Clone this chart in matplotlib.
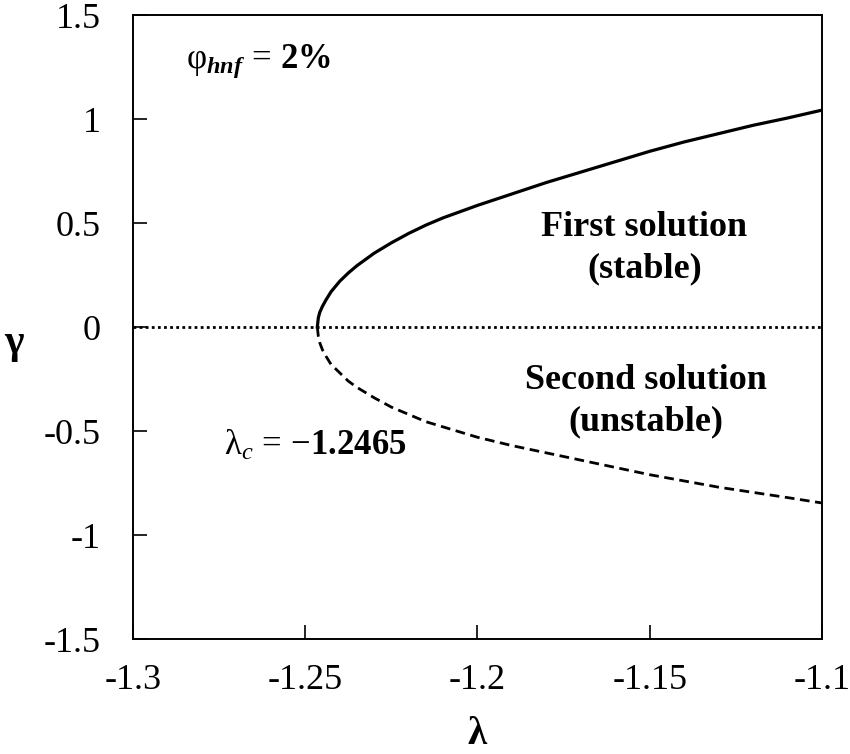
import matplotlib
matplotlib.use("Agg")
import matplotlib.pyplot as plt

plt.rcParams['font.family'] = ['Liberation Serif', 'DejaVu Serif']
plt.rcParams['mathtext.fontset'] = 'custom'
plt.rcParams['mathtext.rm'] = 'Liberation Serif'
plt.rcParams['mathtext.it'] = 'Liberation Serif:italic'
plt.rcParams['mathtext.bf'] = 'Liberation Serif:bold'
plt.rcParams['mathtext.bfit'] = 'Liberation Serif:bold:italic'

# Data
lam_first = [-1.2465, -1.2462, -1.2458, -1.245, -1.244, -1.2425, -1.24, -1.2375, -1.235,
             -1.2325, -1.23, -1.225, -1.22, -1.215, -1.21, -1.2, -1.19, -1.18, -1.17,
             -1.16, -1.15, -1.14, -1.13, -1.12, -1.11, -1.1]
gamma_first = [0.0, 0.045, 0.07, 0.10, 0.13, 0.17, 0.22, 0.26, 0.295,
               0.325, 0.355, 0.405, 0.45, 0.49, 0.525, 0.585, 0.64, 0.695, 0.745,
               0.795, 0.845, 0.89, 0.93, 0.97, 1.005, 1.043]
lam_second = [-1.2465, -1.2462, -1.2458, -1.245, -1.244, -1.2425, -1.24, -1.2375, -1.235,
              -1.2325, -1.23, -1.225, -1.22, -1.215, -1.21, -1.2, -1.19, -1.18, -1.17,
              -1.16, -1.15, -1.14, -1.13, -1.12, -1.11, -1.1]
gamma_second = [0.0, -0.045, -0.075, -0.11, -0.14, -0.18, -0.22, -0.26, -0.29,
                -0.315, -0.34, -0.385, -0.42, -0.455, -0.48, -0.53, -0.57, -0.605, -0.64,
                -0.675, -0.71, -0.74, -0.77, -0.795, -0.82, -0.846]
zero_x = [-1.3, -1.1]
zero_y = [0.0, 0.0]
xticks = [-1.3, -1.25, -1.2, -1.15, -1.1]
xticklabels = ['-1.3', '-1.25', '-1.2', '-1.15', '-1.1']
yticks = [-1.5, -1, -0.5, 0, 0.5, 1, 1.5]
yticklabels = ['-1.5', '-1', '-0.5', '0', '0.5', '1', '1.5']

fig = plt.figure(figsize=(8.5, 7.54), dpi=100)
ax = fig.add_axes([0.1565, 0.1525, 0.8105, 0.8275])

ax.plot(zero_x, zero_y, color='black', linestyle=(0, (1, 1.2)), linewidth=2.0)
ax.plot(lam_first, gamma_first, color='black', linestyle='-', linewidth=2.3,
        solid_joinstyle='round')
ax.plot(lam_second, gamma_second, color='black', linestyle=(0, (3.5, 2)), linewidth=2.0)

ax.set_xlim(-1.3, -1.1)
ax.set_ylim(-1.5, 1.5)
ax.set_xticks(xticks)
ax.set_xticklabels(xticklabels)
ax.set_yticks(yticks)
ax.set_yticklabels(yticklabels)
ax.tick_params(axis='both', direction='in', length=10, width=1.2, labelsize=26,
               top=False, right=False)
ax.tick_params(axis='x', pad=18)
ax.tick_params(axis='y', pad=23)
for s in ax.spines.values():
    s.set_linewidth(1.4)

ax.set_xlabel('λ', fontsize=28, fontweight='bold', va='baseline', ha='center')
ax.xaxis.set_label_coords(0.5, -0.169)
ax.set_ylabel('γ', fontsize=30, fontweight='bold', rotation=0, va='center', ha='center')
ax.yaxis.set_label_coords(-0.173, 0.474)

ax.text(-1.2847, 1.28, r'$\mathrm{\varphi}_{\mathbfit{hnf}}\,=\,\mathbf{2\%}$',
        fontsize=25, ha='left', va='center')
ax.text(-1.2735, -0.57, r'$\mathrm{\lambda}_{c}\,=\,\mathrm{-}\mathbf{1.2465}$',
        fontsize=25, ha='left', va='center')

ax.text(-1.1515, 0.38, 'First solution\n(stable)', fontsize=26, fontweight='bold',
        ha='center', va='center', linespacing=1.35)
ax.text(-1.151, -0.355, 'Second solution\n(unstable)', fontsize=26, fontweight='bold',
        ha='center', va='center', linespacing=1.32)

fig.savefig('out.png', dpi=100)
